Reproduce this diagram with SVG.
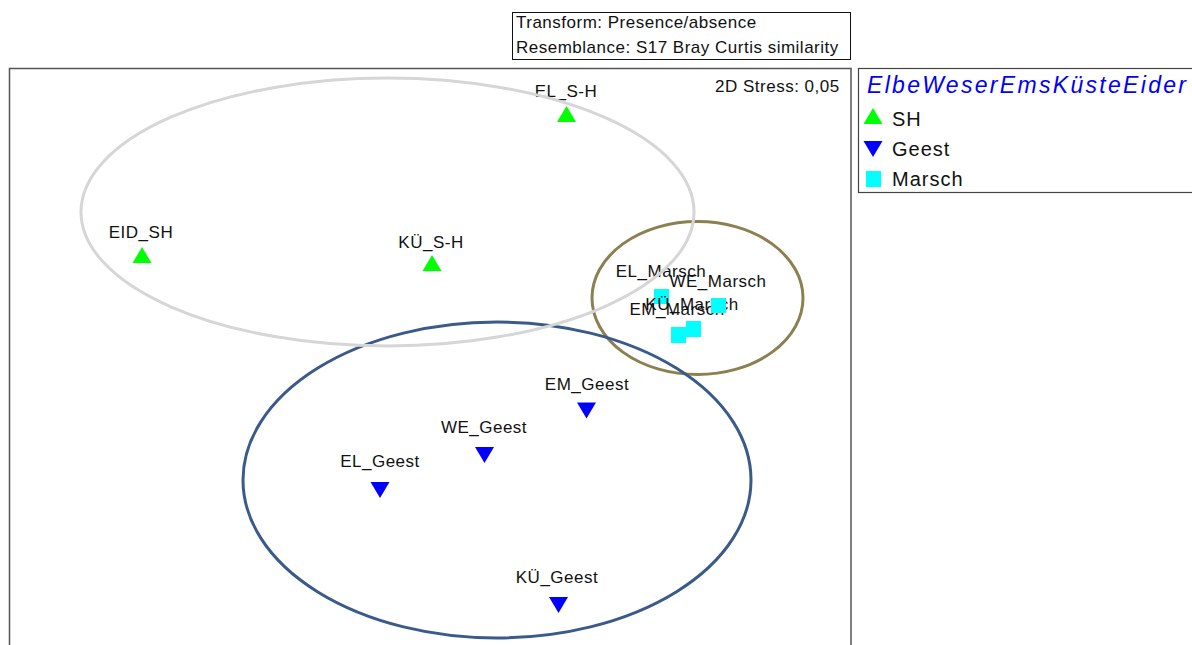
<svg xmlns="http://www.w3.org/2000/svg" width="1192" height="645" viewBox="0 0 1192 645">
<defs>
<style>
text{font-family:"Liberation Sans",Arial,sans-serif;fill:#111}
.lbl{font-size:17px;letter-spacing:0.5px;text-anchor:middle}
.leg{font-size:20px;letter-spacing:1px}
.sh{fill:#00ff00}
.ge{fill:#0000ff}
.ma{fill:#00ffff}
.ell{fill:none;stroke-width:3}
</style>
<polygon id="up" points="0,-8 9.5,8 -9.5,8"/>
<polygon id="dn" points="-9.5,-8 9.5,-8 0,8"/>
</defs>
<rect width="1192" height="645" fill="#fff"/>
<g id="title">
<rect x="512.5" y="12.5" width="338" height="47" fill="#fff" stroke="#111" stroke-width="1"/>
<text x="516" y="28" style="font-size:17px;letter-spacing:0.5px">Transform: Presence/absence</text>
<text x="516" y="53" style="font-size:17px;letter-spacing:0.5px">Resemblance: S17 Bray Curtis similarity</text>
</g>
<g id="plotframe">
<path d="M9.5,650 V68.5 H851 V650" fill="none" stroke="#555" stroke-width="1.5"/>
<text x="715" y="92" style="font-size:17px;letter-spacing:0.5px">2D Stress: 0,05</text>
</g>
<g id="legend">
<rect x="858.5" y="68.5" width="340" height="124" fill="#fff" stroke="#444" stroke-width="1.2"/>
<text x="867" y="93" style="font-size:23px;font-style:italic;fill:#0000ff" textLength="319" lengthAdjust="spacing">ElbeWeserEmsKüsteEider</text>
<use href="#up" class="sh" x="873" y="116"/>
<text class="leg" x="892" y="126">SH</text>
<use href="#dn" class="ge" x="873" y="149"/>
<text class="leg" x="892" y="156">Geest</text>
<rect class="ma" x="866" y="171" width="15" height="16"/>
<text class="leg" x="892" y="186">Marsch</text>
</g>
<g id="SH-points">
<g id="EL_S-H"><text class="lbl" x="566" y="97">EL_S-H</text><use href="#up" class="sh" x="566.5" y="114"/></g>
<g id="EID_SH"><text class="lbl" x="141" y="238">EID_SH</text><use href="#up" class="sh" x="142" y="255"/></g>
<g id="KU_S-H"><text class="lbl" x="431" y="248">KÜ_S-H</text><use href="#up" class="sh" x="432" y="263"/></g>
</g>
<g id="Geest-points">
<g id="EM_Geest"><text class="lbl" x="587" y="390">EM_Geest</text><use href="#dn" class="ge" x="586.5" y="410.5"/></g>
<g id="WE_Geest"><text class="lbl" x="484" y="433">WE_Geest</text><use href="#dn" class="ge" x="484.5" y="455"/></g>
<g id="EL_Geest"><text class="lbl" x="380" y="467">EL_Geest</text><use href="#dn" class="ge" x="380" y="490"/></g>
<g id="KU_Geest"><text class="lbl" x="557" y="583">KÜ_Geest</text><use href="#dn" class="ge" x="558.5" y="605"/></g>
</g>
<g id="Marsch-points">
<g id="EL_Marsch"><rect class="ma" x="654" y="289" width="15" height="15"/><text class="lbl" x="661" y="277">EL_Marsch</text></g>
<g id="KU_Marsch-label"><text class="lbl" x="692" y="310">KÜ_Marsch</text></g>
<g id="EM_Marsch-label"><text class="lbl" x="677" y="315">EM_Marsch</text></g>
<g id="WE_Marsch"><text class="lbl" x="718" y="287">WE_Marsch</text><rect class="ma" x="711" y="298" width="15" height="15"/></g>
<g id="KU_Marsch"><rect class="ma" x="686" y="321" width="15" height="16"/></g>
<g id="EM_Marsch"><rect class="ma" x="671" y="327" width="15" height="16"/></g>
</g>
<g id="connectors">
<ellipse class="ell" cx="697.5" cy="298" rx="105.5" ry="76.5" stroke="#8c7f50"/>
<ellipse class="ell" cx="497" cy="480" rx="254" ry="158" stroke="#3a5a8a"/>
<ellipse class="ell" cx="387.5" cy="212" rx="306.5" ry="134" stroke="#d6d6d6"/>
</g>
</svg>
